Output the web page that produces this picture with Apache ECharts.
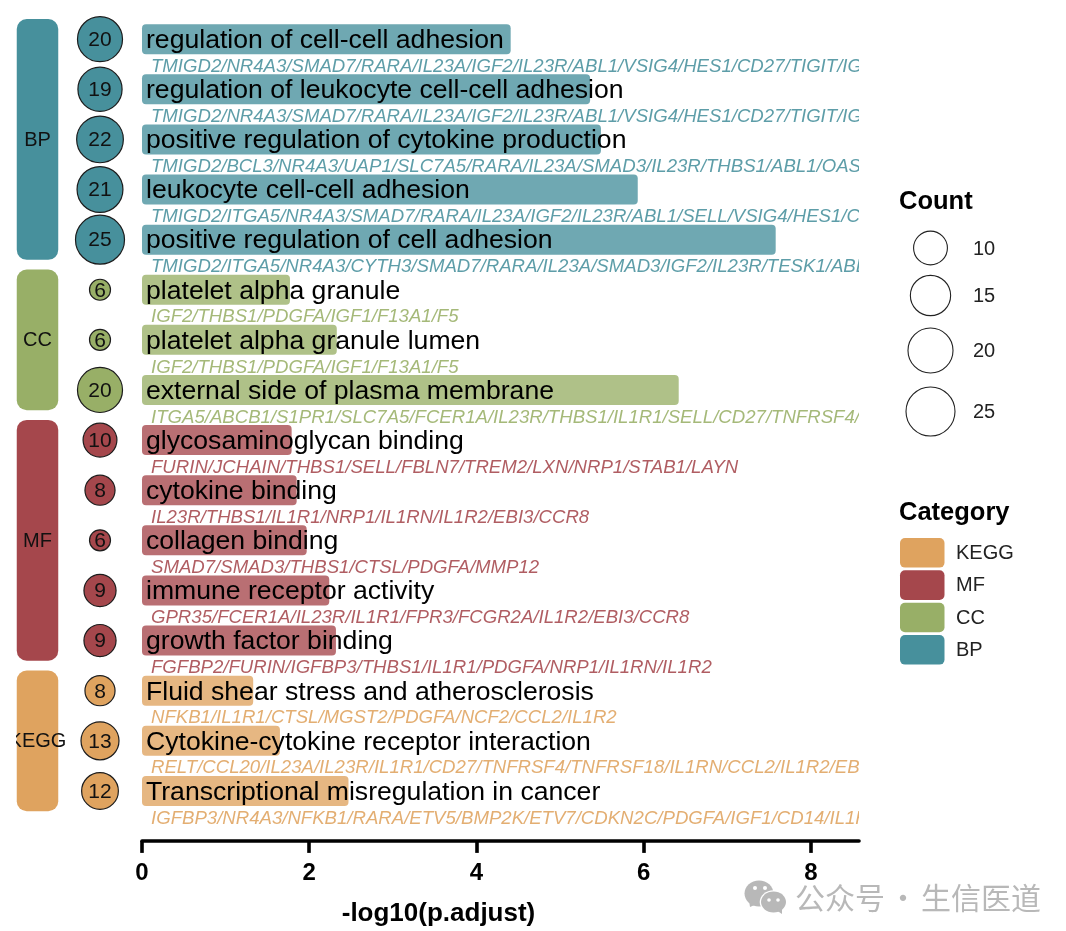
<!DOCTYPE html>
<html><head><meta charset="utf-8">
<style>html,body{margin:0;padding:0;background:#fff}#c{width:1066px;height:931px}</style>
<script src="https://cdn.jsdelivr.net/npm/echarts@6/dist/echarts.min.js"></script>
</head><body><div id="c"></div>
<script>
const terms = ["regulation of cell-cell adhesion","regulation of leukocyte cell-cell adhesion","positive regulation of cytokine production","leukocyte cell-cell adhesion","positive regulation of cell adhesion","platelet alpha granule","platelet alpha granule lumen","external side of plasma membrane","glycosaminoglycan binding","cytokine binding","collagen binding","immune receptor activity","growth factor binding","Fluid shear stress and atherosclerosis","Cytokine-cytokine receptor interaction","Transcriptional misregulation in cancer"];
const termCategory = ["BP","BP","BP","BP","BP","CC","CC","CC","MF","MF","MF","MF","MF","KEGG","KEGG","KEGG"];
const logP = [4.41,5.36,5.49,5.93,7.58,1.77,2.33,6.42,1.79,1.85,1.97,2.24,2.32,1.33,1.65,2.47];
const counts = [20,19,22,21,25,6,6,20,10,8,6,9,9,8,13,12];
const genes = [
"TMIGD2/NR4A3/SMAD7/RARA/IL23A/IGF2/IL23R/ABL1/VSIG4/HES1/CD27/TIGIT/IGF1",
"TMIGD2/NR4A3/SMAD7/RARA/IL23A/IGF2/IL23R/ABL1/VSIG4/HES1/CD27/TIGIT/IGF1",
"TMIGD2/BCL3/NR4A3/UAP1/SLC7A5/RARA/IL23A/SMAD3/IL23R/THBS1/ABL1/OAS1",
"TMIGD2/ITGA5/NR4A3/SMAD7/RARA/IL23A/IGF2/IL23R/ABL1/SELL/VSIG4/HES1/CD27",
"TMIGD2/ITGA5/NR4A3/CYTH3/SMAD7/RARA/IL23A/SMAD3/IGF2/IL23R/TESK1/ABL1",
"IGF2/THBS1/PDGFA/IGF1/F13A1/F5",
"IGF2/THBS1/PDGFA/IGF1/F13A1/F5",
"ITGA5/ABCB1/S1PR1/SLC7A5/FCER1A/IL23R/THBS1/IL1R1/SELL/CD27/TNFRSF4/CD14",
"FURIN/JCHAIN/THBS1/SELL/FBLN7/TREM2/LXN/NRP1/STAB1/LAYN",
"IL23R/THBS1/IL1R1/NRP1/IL1RN/IL1R2/EBI3/CCR8",
"SMAD7/SMAD3/THBS1/CTSL/PDGFA/MMP12",
"GPR35/FCER1A/IL23R/IL1R1/FPR3/FCGR2A/IL1R2/EBI3/CCR8",
"FGFBP2/FURIN/IGFBP3/THBS1/IL1R1/PDGFA/NRP1/IL1RN/IL1R2",
"NFKB1/IL1R1/CTSL/MGST2/PDGFA/NCF2/CCL2/IL1R2",
"RELT/CCL20/IL23A/IL23R/IL1R1/CD27/TNFRSF4/TNFRSF18/IL1RN/CCL2/IL1R2/EBI3",
"IGFBP3/NR4A3/NFKB1/RARA/ETV5/BMP2K/ETV7/CDKN2C/PDGFA/IGF1/CD14/IL1R1"];
const categoryNames = ["BP","CC","MF","KEGG"];
const categoryFirst = [0,5,8,13];
const categoryLast = [4,7,12,15];
const colors = {BP:"#47909C",CC:"#98AF67",MF:"#A5474C",KEGG:"#DFA35F"};
const xTicks = [0,2,4,6,8];
const legendCounts = [10,15,20,25];
const legendCountY = [248,295.5,350.5,411.5];
const legendOrder = ["KEGG","MF","CC","BP"];
const legendCatY = [538,570.3,602.7,635];

const F = "'Liberation Sans',Arial,sans-serif";
const sz = v => 22 + 28*Math.sqrt((v-6)/19);
const TOP=14.1, H=801.9, L=142, XMAX=(859-142)/83.6, GAP=24.9;
const PANEL_L=16, PANEL_U=62.5;

const graphics = [];
graphics.push({type:'text',left:899,top:189,style:{text:'Count',font:`bold 25.5px ${F}`,fill:'#000'}});
legendCounts.forEach((v,i)=>{
  graphics.push({type:'circle',shape:{cx:930.5,cy:legendCountY[i],r:sz(v)/2-0.5},style:{fill:'#fff',stroke:'#222',lineWidth:1.1}});
  graphics.push({type:'text',x:973,y:legendCountY[i]+1,style:{text:String(v),font:`20px ${F}`,fill:'#222',textVerticalAlign:'middle'}});
});
graphics.push({type:'text',left:899,top:500,style:{text:'Category',font:`bold 25.5px ${F}`,fill:'#000'}});
legendOrder.forEach((c,i)=>{
  graphics.push({type:'rect',shape:{x:900,y:legendCatY[i],width:44.5,height:29.6,r:5},style:{fill:colors[c]}});
  graphics.push({type:'text',x:956,y:legendCatY[i]+15.5,style:{text:c,font:`20px ${F}`,fill:'#222',textVerticalAlign:'middle'}});
});
// watermark
const wm='#b8b8b8';
graphics.push({type:'group',silent:true,children:[
  {type:'ellipse',shape:{cx:759,cy:893.5,rx:14.5,ry:13},style:{fill:wm}},
  {type:'polygon',shape:{points:[[749,900],[750,907],[757,904]]},style:{fill:wm}},
  {type:'ellipse',shape:{cx:773.5,cy:902,rx:13.8,ry:11.8},style:{fill:'#fff'}},
  {type:'ellipse',shape:{cx:773.5,cy:902,rx:12.5,ry:10.5},style:{fill:wm}},
  {type:'polygon',shape:{points:[[776,910],[782,914],[782,906]]},style:{fill:wm}},
  {type:'circle',shape:{cx:755,cy:888,r:2},style:{fill:'#fff'}},
  {type:'circle',shape:{cx:765,cy:888,r:2},style:{fill:'#fff'}},
  {type:'circle',shape:{cx:769,cy:900,r:1.8},style:{fill:'#fff'}},
  {type:'circle',shape:{cx:778,cy:900,r:1.8},style:{fill:'#fff'}}
]});
const wmFont = `30px 'Noto Sans CJK SC'`;
graphics.push({type:'text',x:795,y:898,style:{text:'公众号',font:wmFont,fill:wm,textVerticalAlign:'middle'}});
graphics.push({type:'text',x:903,y:898,style:{text:'·',font:wmFont,fill:wm,textAlign:'center',textVerticalAlign:'middle'}});
graphics.push({type:'text',x:921,y:898,style:{text:'生信医道',font:wmFont,fill:wm,textVerticalAlign:'middle'}});

const opt = {
  animation:false,
  backgroundColor:'#fff',
  grid:[
    {left:L,top:TOP,width:859-142,height:H,outerBoundsMode:'none'},
    {left:PANEL_L,top:TOP,width:116,height:H,outerBoundsMode:'none'}
  ],
  xAxis:[
    {gridIndex:0,type:'value',min:0,max:XMAX,interval:2,position:'bottom',offset:GAP,
     splitLine:{show:false},
     axisLine:{show:true,lineStyle:{color:'#000',width:3.6}},
     axisTick:{show:true,length:12,customValues:xTicks,lineStyle:{color:'#000',width:3.6}},
     axisLabel:{color:'#000',fontFamily:F,fontWeight:'bold',fontSize:24,margin:20,customValues:xTicks},
     name:'-log10(p.adjust)',nameLocation:'middle',nameGap:60,
     nameTextStyle:{fontFamily:F,fontWeight:'bold',fontSize:26,color:'#000',padding:[0,124,0,0]}},
    {gridIndex:1,type:'value',min:1-(37.5-PANEL_L)/PANEL_U,max:1-(37.5-PANEL_L)/PANEL_U+116/PANEL_U,show:false}
  ],
  yAxis:[
    {gridIndex:0,type:'category',data:terms,inverse:true,show:false},
    {gridIndex:1,type:'category',data:terms,inverse:true,show:false}
  ],
  series:[
    {type:'custom',xAxisIndex:1,yAxisIndex:1,clip:false,silent:true,z:2,
     data:categoryNames.map((c,i)=>[1,categoryFirst[i],categoryLast[i],i]),
     encode:{x:0,y:[1,2]},
     renderItem(p,api){
       const c=categoryNames[api.value(3)];
       const a=api.coord([1,api.value(1)]),b=api.coord([1,api.value(2)]);
       const half=20.2,w=41.5;
       const cs=p.coordSys;
       const my=(a[1]+b[1])/2+1;
       return {type:'group',children:[
         {type:'rect',shape:{x:a[0]-w/2,y:a[1]-half,width:w,height:b[1]-a[1]+2*half,r:10},style:{fill:colors[c]}},
         {type:'text',x:a[0],y:my,style:{text:c,align:'center',verticalAlign:'middle',font:`20px ${F}`,fill:'#111'},
          clipPath:{type:'rect',shape:{x:cs.x-a[0],y:-30,width:cs.width,height:60}}}
       ]};
     }},
    {type:'scatter',xAxisIndex:1,yAxisIndex:1,z:3,clip:false,
     data:counts.map((v,i)=>({value:[2,i,v],itemStyle:{color:colors[termCategory[i]]}})),
     symbolSize:d=>sz(d[2])-1,
     itemStyle:{borderColor:'#1c1c1c',borderWidth:1.2,opacity:1},
     label:{show:true,position:'inside',formatter:p=>String(p.value[2]),fontFamily:F,fontSize:21,color:'#111',offset:[0,1]}},
    {type:'bar',xAxisIndex:0,yAxisIndex:0,z:2,barWidth:30,
     data:logP.map((v,i)=>({value:v,itemStyle:{color:colors[termCategory[i]]+'C7'}})),
     itemStyle:{borderRadius:4},
     label:{show:true,position:'insideLeft',distance:4,formatter:p=>terms[p.dataIndex],fontFamily:F,fontSize:26.6,color:'#000',offset:[0,1.5]}},
    {type:'custom',xAxisIndex:0,yAxisIndex:0,clip:false,silent:true,z:3,
     data:genes.map((g,i)=>[0,i]),
     encode:{x:0,y:1},
     renderItem(p,api){
       const i=api.value(1),pt=api.coord([0,i]);
       const cs=p.coordSys;
       return {type:'text',x:pt[0]+9,y:pt[1]+27.5,
         style:{text:genes[i],align:'left',verticalAlign:'middle',font:`italic 18.6px ${F}`,fill:colors[termCategory[i]],opacity:0.88},
         clipPath:{type:'rect',shape:{x:-20,y:-20,width:cs.x+cs.width-pt[0]-9+20,height:40}}};
     }}
  ],
  graphic:graphics
};
const chart=echarts.init(document.getElementById('c'),null,{renderer:'canvas'});
chart.setOption(opt);
</script></body></html>
